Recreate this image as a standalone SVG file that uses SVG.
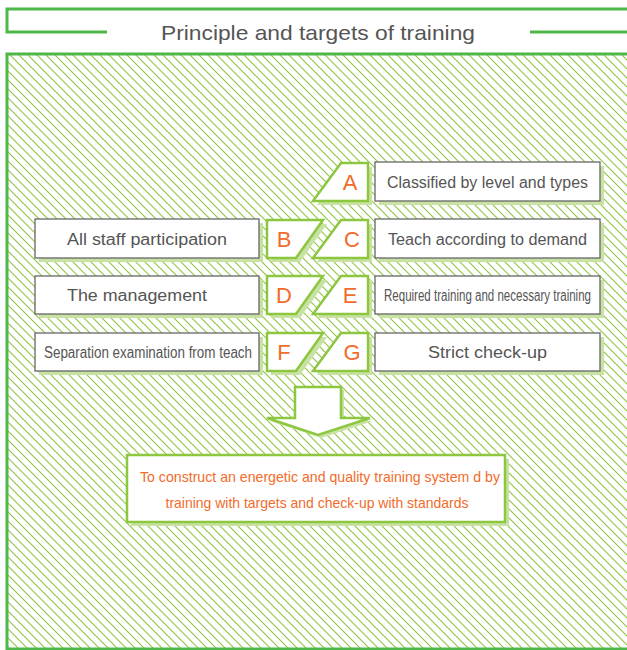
<svg xmlns="http://www.w3.org/2000/svg" width="627" height="650" viewBox="0 0 627 650">
<defs>
<pattern id="hatch" width="9" height="9" patternUnits="userSpaceOnUse">
<path d="M-1,-1 L10,10 M-1,8 L1,10 M8,-1 L10,1" stroke="#8DC63F" stroke-width="1.1" fill="none"/>
</pattern>
<style>
.frame{fill:none;stroke:#4DB848;stroke-width:3}
.box{fill:#fff;stroke:#666;stroke-width:1.3}
.shadow{fill:#C8E2A4}
.tz{fill:#fff;stroke:#8DC63F;stroke-width:2.5;stroke-linejoin:miter}
.gt{font-family:"Liberation Sans",Arial,sans-serif;font-size:16px;fill:#555;text-anchor:middle}
.lt{font-family:"Liberation Sans",Arial,sans-serif;font-size:22px;fill:#F26B2B;text-anchor:middle}
.ot{font-family:"Liberation Sans",Arial,sans-serif;font-size:15px;fill:#F26B2B;text-anchor:middle}
</style>
</defs>
<rect width="627" height="650" fill="#fff"/>
<g id="frame">
<path class="frame" d="M627,9 H7 V32 H107 M530,32 H627"/>
<rect x="7" y="54" width="630" height="595" style="fill:url(#hatch)"/>
<rect x="7" y="54" width="630" height="595" class="frame"/>
<text x="318" y="40" font-family="'Liberation Sans',Arial,sans-serif" font-size="21" fill="#555" text-anchor="middle" textLength="314" lengthAdjust="spacingAndGlyphs">Principle and targets of training</text>
</g>
<g id="left-all-staff">
<rect class="shadow" x="39" y="223" width="224" height="39"/>
<rect class="box" x="35" y="219" width="224" height="39"/>
<text class="gt" x="147" y="244.5" textLength="160" lengthAdjust="spacingAndGlyphs">All staff participation</text>
</g>
<g id="left-management">
<rect class="shadow" x="39" y="280" width="224" height="38"/>
<rect class="box" x="35" y="276" width="224" height="38"/>
<text class="gt" x="137" y="301" textLength="140" lengthAdjust="spacingAndGlyphs">The management</text>
</g>
<g id="left-separation">
<rect class="shadow" x="39" y="337" width="224" height="38"/>
<rect class="box" x="35" y="333" width="224" height="38"/>
<text class="gt" x="148" y="358" font-size="15" textLength="208" lengthAdjust="spacingAndGlyphs">Separation examination from teach</text>
</g>
<g id="right-classified">
<rect class="shadow" x="379" y="166" width="225" height="39"/>
<rect class="box" x="375" y="162" width="225" height="39"/>
<text class="gt" x="487.5" y="187.5" textLength="201" lengthAdjust="spacingAndGlyphs">Classified by level and types</text>
</g>
<g id="right-teach">
<rect class="shadow" x="379" y="223" width="225" height="39"/>
<rect class="box" x="375" y="219" width="225" height="39"/>
<text class="gt" x="487.5" y="244.5" textLength="199" lengthAdjust="spacingAndGlyphs">Teach according to demand</text>
</g>
<g id="right-required">
<rect class="shadow" x="379" y="280" width="225" height="38"/>
<rect class="box" x="375" y="276" width="225" height="38"/>
<text class="gt" x="487.5" y="301" font-size="15" textLength="207" lengthAdjust="spacingAndGlyphs">Required training and necessary training</text>
</g>
<g id="right-strict">
<rect class="shadow" x="379" y="337" width="225" height="38"/>
<rect class="box" x="375" y="333" width="225" height="38"/>
<text class="gt" x="487.5" y="358" textLength="119" lengthAdjust="spacingAndGlyphs">Strict check-up</text>
</g>
<g id="tag-A">
<polygon class="shadow" points="345,167 372,167 372,205 317,205"/>
<polygon class="tz" points="341,163 368,163 368,201 313,201"/>
<text class="lt" x="350" y="190">A</text>
</g>
<g id="tag-B">
<polygon class="shadow" points="271,224 327,224 300,262 271,262"/>
<polygon class="tz" points="267,220 323,220 296,258 267,258"/>
<text class="lt" x="284" y="247">B</text>
</g>
<g id="tag-C">
<polygon class="shadow" points="345,224 372,224 372,262 317,262"/>
<polygon class="tz" points="341,220 368,220 368,258 313,258"/>
<text class="lt" x="352" y="247">C</text>
</g>
<g id="tag-D">
<polygon class="shadow" points="271,280 327,280 300,318 271,318"/>
<polygon class="tz" points="267,276 323,276 296,314 267,314"/>
<text class="lt" x="284" y="303">D</text>
</g>
<g id="tag-E">
<polygon class="shadow" points="345,280 372,280 372,318 317,318"/>
<polygon class="tz" points="341,276 368,276 368,314 313,314"/>
<text class="lt" x="350" y="303">E</text>
</g>
<g id="tag-F">
<polygon class="shadow" points="271,337 327,337 300,375 271,375"/>
<polygon class="tz" points="267,333 323,333 296,371 267,371"/>
<text class="lt" x="284" y="360">F</text>
</g>
<g id="tag-G">
<polygon class="shadow" points="345,337 372,337 372,375 317,375"/>
<polygon class="tz" points="341,333 368,333 368,371 313,371"/>
<text class="lt" x="352" y="360">G</text>
</g>
<g id="connectors">
<path class="shadow" d="M298,390 H344 V421 H373 L321,438 L270,421 H298 Z"/>
<path class="tz" d="M295,387 H341 V418 H370 L318,435 L267,418 H295 Z" stroke-width="2"/>
</g>
<g id="result">
<rect class="shadow" x="131" y="459" width="378" height="67"/>
<rect class="tz" x="127" y="455" width="378" height="67"/>
<text class="ot" x="320" y="482" textLength="360" lengthAdjust="spacingAndGlyphs">To construct an energetic and quality training system d by</text>
<text class="ot" x="317" y="508" textLength="303" lengthAdjust="spacingAndGlyphs">training with targets and check-up with standards</text>
</g>
</svg>
